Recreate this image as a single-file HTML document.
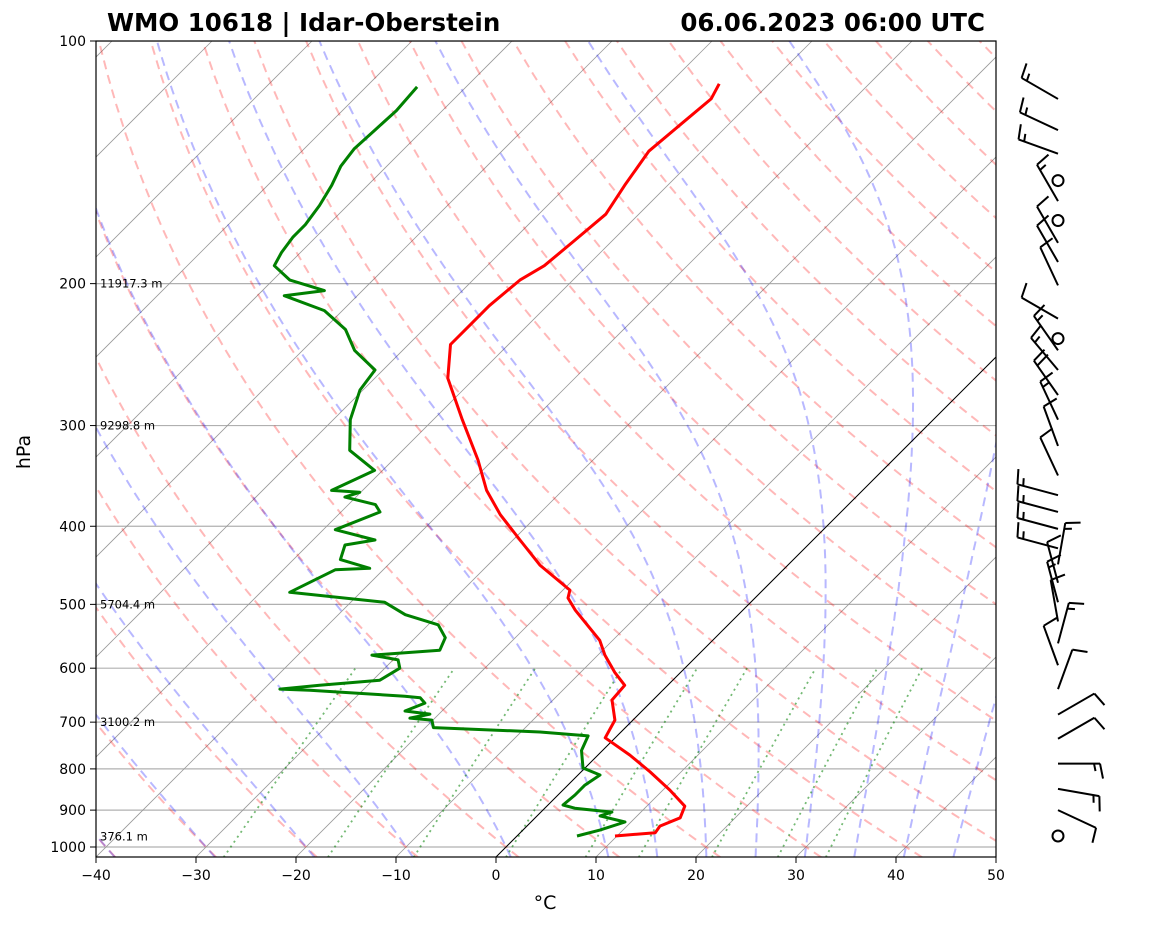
<!DOCTYPE html>
<html><head><meta charset="utf-8"><style>
body{margin:0;background:#fff;}
svg text{font-family:"DejaVu Sans","Liberation Sans",sans-serif;}
</style></head><body>
<svg id="chart" width="1160" height="925" viewBox="0 0 1160 925" xmlns="http://www.w3.org/2000/svg">
<defs><clipPath id="plotclip"><rect x="96" y="41" width="900" height="816"/></clipPath></defs>
<rect x="0" y="0" width="1160" height="925" fill="#fff"/>
<text x="107" y="31" font-size="24.5" font-weight="bold">WMO 10618 | Idar-Oberstein</text>
<text x="985" y="31" font-size="24.5" font-weight="bold" text-anchor="end">06.06.2023 06:00 UTC</text>
<g id="bg" clip-path="url(#plotclip)"></g>
<g id="prof" clip-path="url(#plotclip)"></g>
<g id="axes"></g>
<g id="barbs"></g>
<text x="545" y="909" font-size="19" text-anchor="middle">°C</text>
<text x="0" y="0" font-size="19" text-anchor="middle" transform="translate(30,452) rotate(-90)">hPa</text>
</svg>
<script>
// ---- data ----
const tempP = [969,960,942,920,890,850,807,769,732,696,657,630,607,578,554,508,491,480,447,416,387,361,331,295,262,238,225,213,198,190,177,164,151,137,127,118,113];
const tempT = [9.8,13.5,13.3,14.5,13.8,10.7,6.9,3.2,-1.0,-1.8,-4.1,-4.3,-6.6,-9.3,-11.3,-16.8,-18.7,-19.3,-24.8,-29.3,-33.8,-37.6,-41.5,-47.1,-52.7,-55.8,-55.8,-55.8,-55.3,-54.3,-53.8,-53.3,-54.3,-55.3,-54.8,-54.3,-55.0];
const dewP = [969,953,931,915,905,895,887,862,838,814,798,759,728,720,711,696,692,684,678,663,653,650,639,637,630,621,600,586,578,570,550,530,515,497,483,453,451,440,422,416,404,384,376,368,363,361,341,322,295,271,256,242,228,216,207,204,198,190,183,175,169,160,151,143,136,129,122,114];
const dewT = [6.0,7.7,9.4,6.3,7.1,3.0,1.5,1.7,1.7,2.2,-0.2,-2.1,-2.9,-8.1,-19.2,-20.1,-22.5,-20.9,-23.7,-22.5,-23.5,-25.2,-35.3,-38.4,-34.8,-29.3,-28.5,-29.5,-32.6,-26.3,-27.0,-29.0,-33.3,-36.6,-47.1,-44.8,-41.5,-45.3,-46.3,-43.8,-48.8,-46.1,-47.3,-51.1,-50.1,-53.1,-50.8,-55.3,-58.3,-60.3,-60.8,-64.8,-67.8,-71.8,-77.3,-73.8,-78.3,-81.3,-81.9,-82.3,-82.3,-82.8,-83.6,-84.6,-85.0,-84.8,-84.6,-84.9];
const heightP = [200,300,500,700,970];
const heightLabels = ["11917.3 m","9298.8 m","5704.4 m","3100.2 m","376.1 m"];
const yTicks = [100,200,300,400,500,600,700,800,900,1000];
const xTicks = [-40,-30,-20,-10,0,10,20,30,40,50];
const barbP = [118,129,138,149,158,167,178,188,201,221,234,242,256,275,295,318,346,366,384,403,426,446,470,497,525,559,595,637,685,734,788,847,900,969];
const barbSpd = [15,15,15,0,15,0,10,10,10,10,0,15,15,20,15,10,10,15,15,15,15,15,10,15,10,15,10,10,10,10,15,15,10,0];
const barbDir = [300,295,290,0,330,0,330,330,335,300,0,325,320,325,335,340,335,285,285,285,285,10,345,345,350,15,340,20,60,60,90,100,115,0];

// ---- scales ----
const X0=96, YB=857, YT=41, DEC=806;
function yOf(p){return YT+(Math.log10(p)-2)*DEC;}
function xOf(T,p){return X0+(T+40)*10+(YB-yOf(p));}
const NS='http://www.w3.org/2000/svg';
function mk(tag,attrs,parent){const e=document.createElementNS(NS,tag);for(const k in attrs)e.setAttribute(k,attrs[k]);parent.appendChild(e);return e;}
const bg=document.getElementById('bg'), prof=document.getElementById('prof'), axes=document.getElementById('axes'), barbs=document.getElementById('barbs');
function pathFrom(ps,ts){return ps.map((p,i)=>(i?'L':'M')+xOf(ts[i],p).toFixed(1)+','+yOf(p).toFixed(1)).join('');}

yTicks.forEach(p=>{
  const l=mk('line',{x1:96,x2:996,y1:yOf(p),y2:yOf(p),stroke:'#b0b0b0','stroke-width':1.2},bg);
  
  
});
for(let T=-130;T<=50;T+=10){
  const l=mk('line',{x1:xOf(T,1030),y1:yOf(1030),x2:xOf(T,100),y2:yOf(100),stroke:'#999','stroke-width':0.8},bg);
  
  
}
const pr=[];for(let p=1030;p>=100;p-=10)pr.push(p);
for(let t0=-40;t0<=200;t0+=10){
  const ts=pr.map(p=>(t0+273.15)*Math.pow(p/1000,0.2857)-273.15);
  const e=mk('path',{d:pathFrom(pr,ts),fill:'none',stroke:'#ff0000','stroke-opacity':0.28,'stroke-width':2,'stroke-dasharray':'9,6'},bg);
  
  
}
function es(T){return 6.112*Math.exp(17.67*T/(T+243.5));}
function dTdp(p,T){const Tk=T+273.15,e=es(T),rs=0.622*e/(p-e),Rd=287.04,Lv=2.501e6,Cp=1005.7;
  return (1/p)*(Rd*Tk+Lv*rs)/(Cp+Lv*Lv*rs*0.622/(Rd*Tk*Tk));}
function moist(t0){let ps=[1030],ts=[];let T,p,h=-5;
  let Td=t0;for(let q=1000;q<1030;q+=5){Td+=dTdp(q,Td)*5;} ts.push(Td);
  p=1030;T=Td;
  while(p>100){const k1=dTdp(p,T),k2=dTdp(p+h/2,T+k1*h/2),k3=dTdp(p+h/2,T+k2*h/2),k4=dTdp(p+h,T+k3*h);
    T+=h*(k1+2*k2+2*k3+k4)/6;p+=h;ps.push(p);ts.push(T);}
  return [ps,ts];}
[-50,-40,-30,-20,-10,0,10,15,20,25,30,35,40,45].forEach(t0=>{
  const [ps,ts]=moist(t0);
  const e=mk('path',{d:pathFrom(ps,ts),fill:'none',stroke:'#0000ff','stroke-opacity':0.28,'stroke-width':2,'stroke-dasharray':'9,6'},bg);
  
  
});
[0.0004,0.001,0.002,0.004,0.007,0.01,0.016,0.024,0.032].forEach(w=>{
  const ps=[],ts=[];for(let p=1030;p>=600;p-=10){const e=p*w/(0.622+w),l=Math.log(e/6.112);ps.push(p);ts.push(243.5*l/(17.67-l));}
  const e=mk('path',{d:pathFrom(ps,ts),fill:'none',stroke:'#008000','stroke-opacity':0.55,'stroke-width':1.8,'stroke-dasharray':'2,4'},bg);
  
  
});
const z=mk('line',{x1:xOf(0,1030),y1:yOf(1030),x2:xOf(0,100),y2:yOf(100),stroke:'#000','stroke-width':1},bg);


const tp=mk('path',{d:pathFrom(tempP,tempT),fill:'none',stroke:'#f00','stroke-width':3,'stroke-linejoin':'round'},prof);


const dp=mk('path',{d:pathFrom(dewP,dewT),fill:'none',stroke:'#008000','stroke-width':3,'stroke-linejoin':'round'},prof);


heightP.forEach((p,i)=>{
  const t=mk('text',{x:100,y:yOf(p)+4,'font-size':11.5},axes);t.textContent=heightLabels[i];
  
  
});
const fr=mk('rect',{x:96,y:41,width:900,height:816,fill:'none',stroke:'#000','stroke-width':1.2},axes);


yTicks.forEach(p=>{
  const y=yOf(p);
  const tk=mk('line',{x1:90,x2:96,y1:y,y2:y,stroke:'#000','stroke-width':1},axes);
  
  
  const t=mk('text',{x:86,y:y+5,'font-size':14,'text-anchor':'end'},axes);t.textContent=p;
  
  
});
xTicks.forEach(T=>{
  const x=X0+(T+40)*10;
  const tk=mk('line',{x1:x,x2:x,y1:857,y2:863,stroke:'#000','stroke-width':1},axes);
  
  
  const t=mk('text',{x:x,y:880,'font-size':14,'text-anchor':'middle'},axes);t.textContent=(T<0?'\u2212'+(-T):T);
  
  
});
const BX=1058,L=42,F=15;
barbP.forEach((p,i)=>{
  const y=yOf(p),s=barbSpd[i],d=barbDir[i]*Math.PI/180;
  const g=mk('g',{},barbs);
  
  
  if(s<2.5){mk('circle',{cx:BX,cy:y,r:5.5,fill:'none',stroke:'#000','stroke-width':2},g);return;}
  const sx=Math.sin(d),sy=-Math.cos(d),fx=-sy,fy=sx;
  const tx=BX+sx*L,ty=y+sy*L;
  mk('line',{x1:BX,y1:y,x2:tx,y2:ty,stroke:'#000','stroke-width':2},g);
  let rem=Math.round(s/5)*5,pos=0;
  while(rem>=10){const px=tx-sx*pos,py=ty-sy*pos;mk('line',{x1:px,y1:py,x2:px+fx*F+sx*3,y2:py+fy*F+sy*3,stroke:'#000','stroke-width':2},g);pos+=6;rem-=10;}
  if(rem>=5){if(pos===0)pos=6;const px=tx-sx*pos,py=ty-sy*pos;mk('line',{x1:px,y1:py,x2:px+fx*F/2+sx*1.5,y2:py+fy*F/2+sy*1.5,stroke:'#000','stroke-width':2},g);}
});
</script>
</body></html>
